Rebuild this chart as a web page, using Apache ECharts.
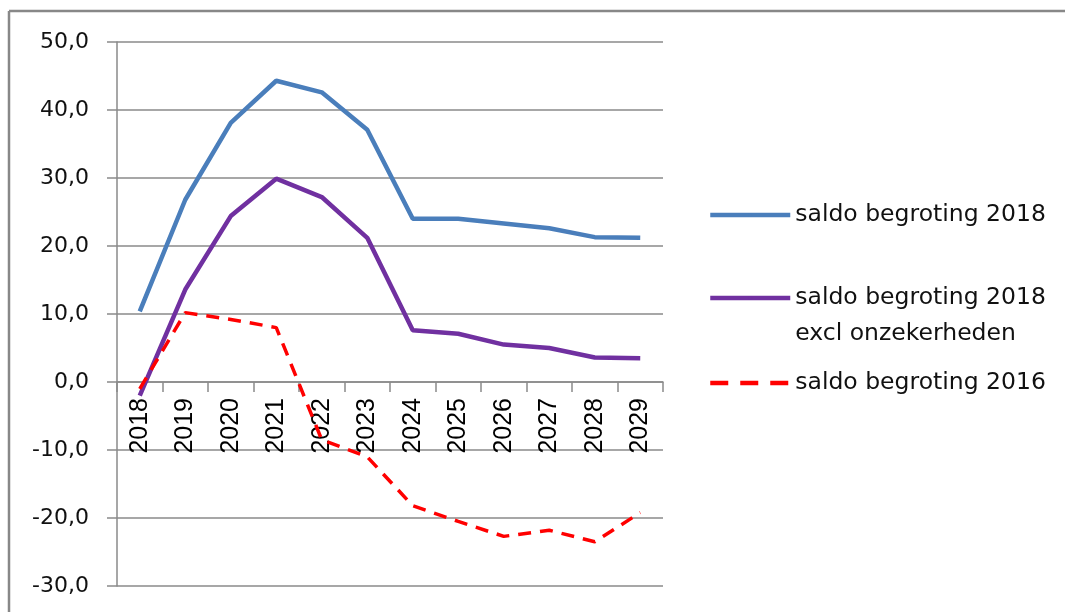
<!DOCTYPE html>
<html>
<head>
<meta charset="utf-8">
<script src="https://cdn.jsdelivr.net/npm/echarts@6/dist/echarts.min.js"></script>
<style>
html,body{margin:0;padding:0;background:#fff;overflow:hidden;}
#chart{width:1065px;height:612px;}
</style>
</head>
<body>
<div id="chart"></div>
<script>
const years = ['2018','2019','2020','2021','2022','2023','2024','2025','2026','2027','2028','2029'];
const saldo2018 = [10.4, 26.8, 38.1, 44.3, 42.6, 37.1, 24.0, 24.0, 23.3, 22.6, 21.3, 21.2];
const saldo2018Excl = [-2.0, 13.6, 24.4, 29.9, 27.2, 21.2, 7.6, 7.1, 5.5, 5.0, 3.6, 3.5];
const saldo2016 = [-1.0, 10.2, 9.2, 8.0, -8.5, -11.0, -18.2, -20.5, -22.7, -21.8, -23.5, -19.2];
const yTicks = {min: -30, max: 50, interval: 10};

const names = ['saldo begroting 2018', 'saldo begroting 2018\nexcl onzekerheden', 'saldo begroting 2016'];
const BLUE = '#4A7EBB', PURPLE = '#7030A0', RED = '#FF0000', GREY = '#8a8a8a';

const chart = echarts.init(document.getElementById('chart'), null, {renderer: 'canvas'});
const legendText = {fontFamily: 'DejaVu Sans', fontSize: 23.5, color: '#111', lineHeight: 36};
function mkLegend(name, top, label, dash) {
  return {
    data: [{name: name, lineStyle: dash ? {type: [18, 12], width: 4.5} : {width: 4.5}}],
    left: 708, top: top, orient: 'vertical', padding: 0,
    itemWidth: 80, itemHeight: 5,
    selectedMode: false,
    formatter: function(){ return label; },
    textStyle: legendText
  };
}
// the value axis spans the grid height for 80 units; the zero line sits 30 units above the bottom
const gridTop = 42, gridBottom = 26, gridH = 612 - gridTop - gridBottom;
const zeroOffset = -gridH * (0 - yTicks.min) / (yTicks.max - yTicks.min);

chart.setOption({
  animation: false,
  backgroundColor: '#fff',
  graphic: [
    {type: 'line', shape: {x1: 9, y1: 11, x2: 1100, y2: 11}, style: {stroke: '#888', lineWidth: 2.5}, silent: true, z: -1},
    {type: 'line', shape: {x1: 9, y1: 11, x2: 9, y2: 640}, style: {stroke: '#888', lineWidth: 2.5}, silent: true, z: -1}
  ],
  legend: [
    mkLegend(names[0], 197, 'saldo begroting 2018', false),
    mkLegend(names[1], 244, '\nsaldo begroting 2018\nexcl onzekerheden', false),
    mkLegend(names[2], 365, 'saldo begroting 2016', true)
  ],
  grid: {left: 117, right: 402, top: gridTop, bottom: gridBottom, containLabel: false, outerBoundsMode: 'none'},
  xAxis: {
    type: 'category', data: years, boundaryGap: true, position: 'bottom', offset: zeroOffset,
    axisLine: {onZero: false, lineStyle: {color: GREY, width: 1.5}},
    axisTick: {show: true, length: 10, lineStyle: {color: GREY, width: 1.5}},
    axisLabel: {rotate: 90, margin: 16, interval: 0, fontFamily: 'Liberation Sans', fontSize: 25, color: '#000'},
    splitLine: {show: false}
  },
  yAxis: {
    type: 'value', min: yTicks.min, max: yTicks.max, interval: yTicks.interval,
    axisLine: {show: true, lineStyle: {color: GREY, width: 1.5}},
    axisTick: {show: true, length: 10, lineStyle: {color: GREY, width: 1.5}},
    axisLabel: {margin: 28, fontFamily: 'DejaVu Sans', fontSize: 22, color: '#111',
      formatter: function(v){ return v.toFixed(1).replace('.', ','); }},
    splitLine: {show: true, lineStyle: {color: GREY, width: 1.5}}
  },
  series: [
    {name: names[0], type: 'line', data: saldo2018, symbol: 'none', lineStyle: {color: BLUE, width: 4.5}, itemStyle: {color: BLUE}},
    {name: names[1], type: 'line', data: saldo2018Excl, symbol: 'none', lineStyle: {color: PURPLE, width: 4.5}, itemStyle: {color: PURPLE}},
    {name: names[2], type: 'line', data: saldo2016, symbol: 'none', lineStyle: {color: RED, width: 3.5, type: [13, 9]}, itemStyle: {color: RED}}
  ]
});
</script>
</body>
</html>
